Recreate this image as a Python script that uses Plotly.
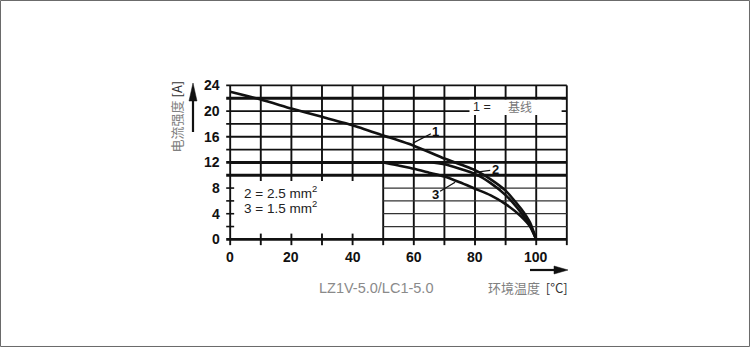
import plotly.graph_objects as go

# Derating curves: current [A] versus ambient temperature [°C]
temp_1 = [0, 10, 20, 30, 40, 50, 60, 70, 80, 85, 90, 95, 98, 100]
amp_1 = [23.0, 21.8, 20.4, 19.1, 17.8, 16.2, 14.6, 12.6, 10.8, 9.4, 7.6, 4.8, 2.6, 0.0]

temp_2 = [0, 20, 40, 60, 66, 70, 75, 80, 85, 90, 95, 98, 100]
amp_2 = [12.0, 12.0, 12.0, 12.0, 12.0, 11.7, 11.0, 10.2, 8.8, 6.9, 4.2, 2.2, 0.0]

temp_3 = [0, 15, 30, 45, 50, 55, 60, 65, 70, 75, 80, 85, 90, 95, 98, 100]
amp_3 = [12.0, 12.0, 12.0, 12.0, 12.0, 11.5, 11.0, 10.4, 9.8, 8.9, 7.9, 6.9, 5.5, 3.6, 2.0, 0.0]

x_ticks = [0, 20, 40, 60, 80, 100]
y_ticks = [0, 4, 8, 12, 16, 20, 24]
x_grid = [0, 10, 20, 30, 40, 50, 60, 70, 80, 90, 100, 110]
y_grid = [0, 2, 4, 6, 8, 10, 12, 14, 16, 18, 20, 22, 24]
thick_rows = [0, 10, 12, 22]

X_MAX, Y_MAX = 110, 24
BOX_X, BOX_Y = 50, 10          # blank note area in the lower-left corner
TICK_X, TICK_Y = 1.3, 0.9      # half-length of the small axis tick marks

BLACK = "#111111"
FONT = "Liberation Sans, Arial, sans-serif"
CJK = "Noto Sans CJK SC, sans-serif"

fig = go.Figure()

for xs, ys in [(temp_1, amp_1), (temp_2, amp_2), (temp_3, amp_3)]:
    fig.add_trace(go.Scatter(
        x=xs, y=ys, mode="lines",
        line=dict(color=BLACK, width=2.6, shape="spline", smoothing=0.5),
        hoverinfo="skip", showlegend=False,
    ))

shapes = []


def seg(x0, y0, x1, y1, width=1.8, color=BLACK):
    shapes.append(dict(type="line", xref="x", yref="y", x0=x0, y0=y0, x1=x1, y1=y1,
                       line=dict(color=color, width=width), layer="below"))


# vertical grid lines and x-axis tick marks
for gx in x_grid:
    if gx == 0 or gx >= BOX_X:
        seg(gx, -TICK_Y, gx, Y_MAX, 1.9)
    else:
        seg(gx, BOX_Y - TICK_Y, gx, Y_MAX, 1.9)
        seg(gx, -TICK_Y, gx, TICK_Y, 1.9)

# horizontal grid lines and y-axis tick marks
for gy in y_grid:
    w = 2.8 if gy in thick_rows else 1.8
    if gy == 0 or gy >= BOX_Y:
        seg(-TICK_X, gy, X_MAX, gy, w)
    else:
        seg(-TICK_X, gy, TICK_X, gy, 1.6)
        seg(BOX_X, gy, X_MAX, gy, 1.3, "#333333")

# blank panel behind the "1 = 基线" note
shapes.append(dict(type="rect", xref="x", yref="y", x0=78.2, x1=108.3, y0=19.4, y1=21.75,
                   fillcolor="white", line=dict(width=0), layer="below"))

# axis arrows (shaft + slim filled head), placed in paper coordinates
shapes += [
    dict(type="line", xref="paper", yref="paper", x0=-0.07887, x1=-0.07887,
         y0=0.68824, y1=0.88, line=dict(color=BLACK, width=2.2)),
    dict(type="path", xref="paper", yref="paper",
         path="M -0.07887 0.97647 L -0.09014 0.87059 L -0.06761 0.87059 Z",
         fillcolor=BLACK, line=dict(color=BLACK, width=0.5)),
    dict(type="line", xref="paper", yref="paper", x0=0.87042, x1=0.94,
         y0=-0.12353, y1=-0.12353, line=dict(color=BLACK, width=2.2)),
    dict(type="path", xref="paper", yref="paper",
         path="M 0.97746 -0.12353 L 0.93803 -0.1 L 0.93803 -0.14706 Z",
         fillcolor=BLACK, line=dict(color=BLACK, width=0.5)),
]

# outer frame of the figure
shapes.append(dict(type="rect", xref="paper", yref="paper",
                   x0=-0.6211, x1=1.4887, y0=-0.5735, y1=1.4618,
                   line=dict(color="#6a6a6a", width=1), fillcolor="rgba(0,0,0,0)"))

annotations = []

for v in x_ticks:
    annotations.append(dict(x=v, y=0, xref="x", yref="y", text=f"<b>{v}</b>",
                            showarrow=False, yanchor="top", yshift=-8,
                            font=dict(family=FONT, size=14, color=BLACK)))
for v in y_ticks:
    annotations.append(dict(x=0, y=v, xref="x", yref="y", text=f"<b>{v}</b>",
                            showarrow=False, xanchor="right", xshift=-8,
                            font=dict(family=FONT, size=14, color=BLACK)))

# cross-section notes
annotations += [
    dict(x=3.7, y=7.45, xref="x", yref="y", text="2 = 2.5 mm<sup>2</sup>", showarrow=False,
         xanchor="left", yanchor="middle", font=dict(family=FONT, size=13.5, color="#222222")),
    dict(x=3.7, y=5.1, xref="x", yref="y", text="3 = 1.5 mm<sup>2</sup>", showarrow=False,
         xanchor="left", yanchor="middle", font=dict(family=FONT, size=13.5, color="#222222")),
    dict(x=78.6, y=20.65, xref="x", yref="y", text="1 =", showarrow=False,
         xanchor="left", yanchor="middle", font=dict(family=FONT, size=12.5, color="#222222")),
    dict(x=94.8, y=20.65, xref="x", yref="y", text="基线", showarrow=False,
         xanchor="center", yanchor="middle", font=dict(family=CJK, size=12, color="#777777")),
]

# curve labels with leader lines
for tx, ty, ax, ay, label in [(59.7, 15.0, 23, -12, "1"),
                              (79.4, 10.4, 22, -3, "2"),
                              (73.5, 8.9, -20, 12, "3")]:
    annotations.append(dict(x=tx, y=ty, xref="x", yref="y", ax=ax, ay=ay,
                            text=f"<b>{label}</b>", showarrow=True, arrowhead=0,
                            arrowwidth=1.3, arrowcolor=BLACK, standoff=0,
                            font=dict(family=FONT, size=13, color=BLACK)))

# axis titles and model caption
annotations += [
    dict(x=-0.1268, y=0.78, xref="paper", yref="paper", textangle=-90, showarrow=False,
         xanchor="center", yanchor="middle",
         text='<span style="color:#808080">电流强度</span> <span style="color:#333333">[A]</span>',
         font=dict(family=CJK, size=13)),
    dict(x=0.984, y=-0.229, xref="paper", yref="paper", xanchor="right", yanchor="middle",
         showarrow=False,
         text='<span style="color:#808080">环境温度</span>  <span style="color:#333333">[°C]</span>',
         font=dict(family=CJK, size=13)),
    dict(x=0.4366, y=-0.229, xref="paper", yref="paper", xanchor="center", yanchor="middle",
         showarrow=False, text="LZ1V-5.0/LC1-5.0",
         font=dict(family=FONT, size=14.5, color="#8a8a8a")),
]

axis_common = dict(showgrid=False, zeroline=False, showline=False,
                   showticklabels=False, ticks="", fixedrange=True)

fig.update_layout(
    width=750, height=347, autosize=False,
    margin=dict(l=221, r=174, t=79, b=98, pad=0),
    paper_bgcolor="white", plot_bgcolor="rgba(0,0,0,0)",
    xaxis=dict(range=[-3, 113], **axis_common),
    yaxis=dict(range=[-1.5, 25], **axis_common),
    shapes=shapes, annotations=annotations, showlegend=False,
)

fig.write_html("out.html")
